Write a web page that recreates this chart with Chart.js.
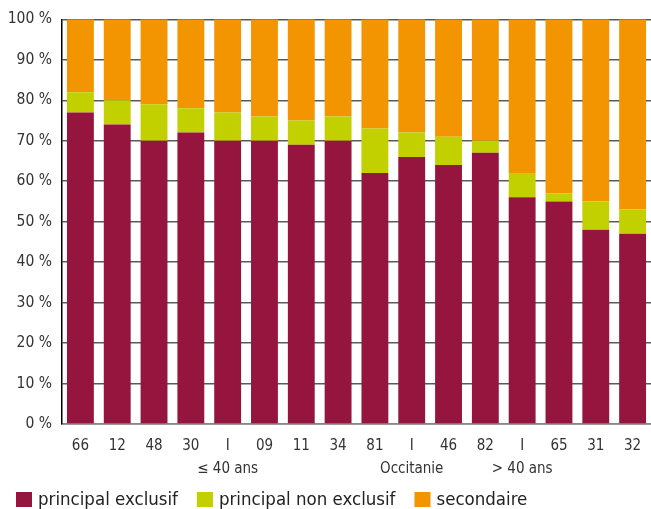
<!DOCTYPE html>
<html>
<head>
<meta charset="utf-8">
<script src="https://cdn.jsdelivr.net/npm/chart.js@4"></script>
<style>
  html, body { margin: 0; padding: 0; background: #fff; }
  #wrap { width: 651px; height: 509px; }
</style>
</head>
<body>
<div id="wrap"><canvas id="chart"></canvas></div>
<script>
// categories (second line = group label under the "I" bars)
const categories = [
  '66', '12', '48', '30', ['I', '≤ 40 ans'], '09', '11', '34',
  '81', ['I', 'Occitanie'], '46', '82', ['I', '> 40 ans'], '65', '31', '32'
];

// shares in %
const principalExclusif    = [77, 74, 70, 72, 70, 70, 69, 70, 62, 66, 64, 67, 56, 55, 48, 47];
const principalNonExclusif = [ 5,  6,  9,  6,  7,  6,  6,  6, 11,  6,  7,  3,  6,  2,  7,  6];
const secondaire           = [18, 20, 21, 22, 23, 24, 25, 24, 27, 28, 29, 30, 38, 43, 45, 47];

const yTicks = [0, 10, 20, 30, 40, 50, 60, 70, 80, 90, 100];

const fontFamily = "'DejaVu Sans Condensed', 'Roboto', sans-serif";

// simple legend drawn under the axis, left aligned
const bottomLegend = {
    id: 'bottomLegend',
    afterDraw(chart) {
        const c = chart.ctx;
        c.save();
        c.font = '18.5px ' + fontFamily;
        c.textBaseline = 'middle';
        let x = 16;
        const y = 500;
        chart.data.datasets.forEach(ds => {
            c.fillStyle = ds.backgroundColor;
            c.fillRect(x, y - 8, 16, 15);
            c.fillStyle = '#222';
            c.fillText(ds.label, x + 22, y);
            x += 22 + c.measureText(ds.label).width + 19;
        });
        c.restore();
    }
};

const ctx = document.getElementById('chart').getContext('2d');
new Chart(ctx, {
    type: 'bar',
    data: {
        labels: categories,
        datasets: [
            { label: 'principal exclusif', data: principalExclusif, backgroundColor: '#96153e' },
            { label: 'principal non exclusif', data: principalNonExclusif, backgroundColor: '#c3d000' },
            { label: 'secondaire', data: secondaire, backgroundColor: '#f39500' }
        ]
    },
    plugins: [bottomLegend],
    options: {
        responsive: true,
        maintainAspectRatio: false,
        animation: false,
        layout: { padding: { top: 11, right: 0, left: 0, bottom: 0 } },
        datasets: { bar: { barPercentage: 0.73, categoryPercentage: 1 } },
        plugins: {
            tooltip: { enabled: false },
            legend: { display: false }
        },
        scales: {
            x: {
                stacked: true,
                afterFit: axis => { axis.height = 85; },
                grid: { display: false },
                border: { color: '#888', width: 1.5 },
                ticks: {
                    color: '#333',
                    padding: 3,
                    maxRotation: 0,
                    autoSkip: false,
                    font: { family: fontFamily, size: 15, lineHeight: 1.5 }
                }
            },
            y: {
                stacked: true,
                min: 0,
                max: 100,
                afterBuildTicks: axis => { axis.ticks = yTicks.map(v => ({ value: v })); },
                afterFit: axis => { axis.width = 62; },
                grid: { color: '#5a5a5a', lineWidth: 1.4, drawTicks: false },
                border: { color: '#000', width: 1.5 },
                ticks: {
                    color: '#333',
                    padding: 10,
                    font: { family: fontFamily, size: 15.5 },
                    callback: v => v + ' %'
                }
            }
        }
    }
});
</script>
</body>
</html>
